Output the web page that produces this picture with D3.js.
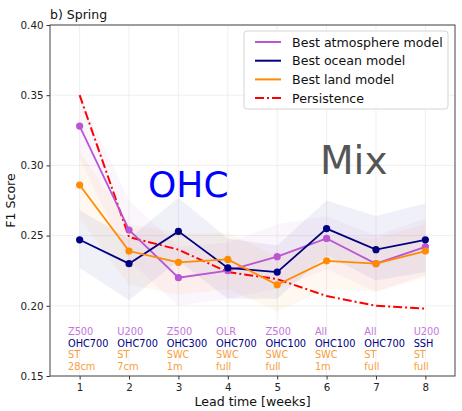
<!DOCTYPE html>
<html>
<head>
<meta charset="utf-8">
<script src="https://cdn.jsdelivr.net/npm/d3@7"></script>
<style>
  body { margin: 0; background: #fff; }
  text { font-family: "DejaVu Sans", sans-serif; }
</style>
</head>
<body>
<script>
// lead times
const weeks = [1, 2, 3, 4, 5, 6, 7, 8];

// mean F1 scores
const atmos = [0.328, 0.254, 0.220, 0.225, 0.235, 0.248, 0.230, 0.242];
const ocean = [0.247, 0.230, 0.253, 0.227, 0.224, 0.255, 0.240, 0.247];
const land = [0.286, 0.239, 0.231, 0.233, 0.215, 0.232, 0.230, 0.239];
const persistence = [0.350, 0.249, 0.240, 0.224, 0.219, 0.207, 0.200, 0.198];

// spread bands (low / high)
const atmosLo = [0.305, 0.232, 0.200, 0.205, 0.212, 0.226, 0.210, 0.222];
const atmosHi = [0.350, 0.275, 0.242, 0.245, 0.258, 0.264, 0.250, 0.262];
const oceanLo = [0.227, 0.204, 0.232, 0.205, 0.205, 0.236, 0.218, 0.224];
const oceanHi = [0.268, 0.248, 0.277, 0.248, 0.243, 0.275, 0.264, 0.273];
const landLo = [0.262, 0.215, 0.208, 0.212, 0.196, 0.212, 0.210, 0.220];
const landHi = [0.310, 0.258, 0.252, 0.252, 0.235, 0.250, 0.248, 0.258];

// best predictor labels per week
const atmosVar = ["Z500", "U200", "Z500", "OLR", "Z500", "All", "All", "U200"];
const oceanVar = ["OHC700", "OHC700", "OHC300", "OHC700", "OHC100", "OHC100", "OHC700", "SSH"];
const landVar = ["ST", "ST", "SWC", "SWC", "SWC", "SWC", "ST", "ST"];
const landDepth = ["28cm", "7cm", "1m", "full", "full", "1m", "full", "full"];

const yTicks = [0.15, 0.20, 0.25, 0.30, 0.35, 0.40];

const width = 462, height = 411;
const margin = { top: 25, right: 7, bottom: 35, left: 50 };

const svg = d3.select("body").append("svg")
  .attr("width", width)
  .attr("height", height);

const x = d3.scaleLinear()
  .domain([0.4, 8.6])
  .range([margin.left, width - margin.right]);

const y = d3.scaleLinear()
  .domain([0.15, 0.40])
  .range([height - margin.bottom, margin.top]);

// grid
svg.append("g")
  .selectAll("line")
  .data(weeks)
  .join("line")
  .attr("x1", d => x(d)).attr("x2", d => x(d))
  .attr("y1", y(0.15)).attr("y2", y(0.40))
  .attr("stroke", "#ebebeb").attr("stroke-width", 0.8);
svg.append("g")
  .selectAll("line")
  .data(yTicks)
  .join("line")
  .attr("x1", x(0.4)).attr("x2", x(8.6))
  .attr("y1", d => y(d)).attr("y2", d => y(d))
  .attr("stroke", "#ebebeb").attr("stroke-width", 0.8);

const series = [
  { name: "Best atmosphere model", vals: atmos, lo: atmosLo, hi: atmosHi, color: "#ba55d3" },
  { name: "Best ocean model", vals: ocean, lo: oceanLo, hi: oceanHi, color: "#000080" },
  { name: "Best land model", vals: land, lo: landLo, hi: landHi, color: "#ff8c00" }
];

// bands
const area = d3.area()
  .x((d, i) => x(weeks[i]))
  .y0(d => y(d[0]))
  .y1(d => y(d[1]));

series.forEach(s => {
  svg.append("path")
    .datum(s.lo.map((l, i) => [l, s.hi[i]]))
    .attr("d", area)
    .attr("fill", s.color)
    .attr("fill-opacity", 0.06);
});

const line = d3.line()
  .x((d, i) => x(weeks[i]))
  .y(d => y(d));

// persistence
svg.append("path")
  .datum(persistence)
  .attr("d", line)
  .attr("fill", "none")
  .attr("stroke", "#ff0000")
  .attr("stroke-width", 2)
  .attr("stroke-dasharray", "9,3,2,3");

series.forEach(s => {
  svg.append("path")
    .datum(s.vals)
    .attr("d", line)
    .attr("fill", "none")
    .attr("stroke", s.color)
    .attr("stroke-width", 1.8);
  svg.append("g")
    .selectAll("circle")
    .data(s.vals)
    .join("circle")
    .attr("cx", (d, i) => x(weeks[i]))
    .attr("cy", d => y(d))
    .attr("r", 3.6)
    .attr("fill", s.color);
});

// big annotations
svg.append("text")
  .attr("x", x(3.2)).attr("y", y(0.2778))
  .attr("text-anchor", "middle")
  .attr("font-size", 36)
  .attr("fill", "#0000ff")
  .text("OHC");
svg.append("text")
  .attr("x", x(6.55)).attr("y", y(0.2942))
  .attr("text-anchor", "middle")
  .attr("font-size", 39)
  .attr("fill", "#555555")
  .text("Mix");

// predictor labels
const labelRows = [
  { vals: atmosVar, color: "#c475dc" },
  { vals: oceanVar, color: "#000080" },
  { vals: landVar, color: "#f7a03c" },
  { vals: landDepth, color: "#f7a03c" }
];
labelRows.forEach((r, k) => {
  svg.append("g")
    .selectAll("text")
    .data(r.vals)
    .join("text")
    .attr("x", (d, i) => x(weeks[i] - 0.237))
    .attr("y", y(0.15) - 41 + k * 11.5)
    .attr("font-size", 9.8)
    .attr("fill", r.color)
    .text(d => d);
});

// axes
const xAxis = d3.axisBottom(x).tickValues(weeks).tickFormat(d3.format("d"))
  .tickSizeOuter(0).tickSize(3.5).tickPadding(4.5);
const yAxis = d3.axisLeft(y).tickValues(yTicks).tickFormat(d3.format(".2f"))
  .tickSizeOuter(0).tickSize(3.5).tickPadding(3);

const gx = svg.append("g")
  .attr("transform", `translate(0,${y(0.15)})`)
  .call(xAxis);
const gy = svg.append("g")
  .attr("transform", `translate(${x(0.4)},0)`)
  .call(yAxis);
[gx, gy].forEach(g => {
  g.select(".domain").remove();
  g.selectAll("line").attr("stroke", "#333");
  g.selectAll("text").attr("font-size", 10.3).attr("fill", "#222")
    .attr("font-family", "DejaVu Sans, sans-serif");
});

// frame
svg.append("rect")
  .attr("x", x(0.4)).attr("y", y(0.40))
  .attr("width", x(8.6) - x(0.4))
  .attr("height", y(0.15) - y(0.40))
  .attr("fill", "none")
  .attr("stroke", "#444")
  .attr("stroke-width", 1);

// labels
svg.append("text")
  .attr("x", x(0.4)).attr("y", 19)
  .attr("font-size", 12.5).attr("fill", "#111")
  .text("b) Spring");
svg.append("text")
  .attr("x", (x(0.4) + x(8.6)) / 2).attr("y", 406)
  .attr("text-anchor", "middle")
  .attr("font-size", 12.6).attr("fill", "#111")
  .text("Lead time [weeks]");
svg.append("text")
  .attr("transform", `translate(14.5,${(y(0.15) + y(0.40)) / 2}) rotate(-90)`)
  .attr("text-anchor", "middle")
  .attr("font-size", 12.6).attr("fill", "#111")
  .text("F1 Score");

// legend
const legend = svg.append("g").attr("transform", "translate(244,31)");
legend.append("rect")
  .attr("x", 0).attr("y", 0)
  .attr("width", 204).attr("height", 78)
  .attr("rx", 3)
  .attr("fill", "#fff").attr("fill-opacity", 0.85)
  .attr("stroke", "#d5d5d5");
const legItems = series.map(s => ({ name: s.name, color: s.color, dash: null }))
  .concat([{ name: "Persistence", color: "#ff0000", dash: "9,3,2,3" }]);
legItems.forEach((it, i) => {
  const yy = 11 + i * 18.7;
  legend.append("line")
    .attr("x1", 11).attr("x2", 37)
    .attr("y1", yy).attr("y2", yy)
    .attr("stroke", it.color)
    .attr("stroke-width", 2)
    .attr("stroke-dasharray", it.dash);
  legend.append("text")
    .attr("x", 48).attr("y", yy + 4.5)
    .attr("font-size", 12.6).attr("fill", "#111")
    .text(it.name);
});
</script>
</body>
</html>
